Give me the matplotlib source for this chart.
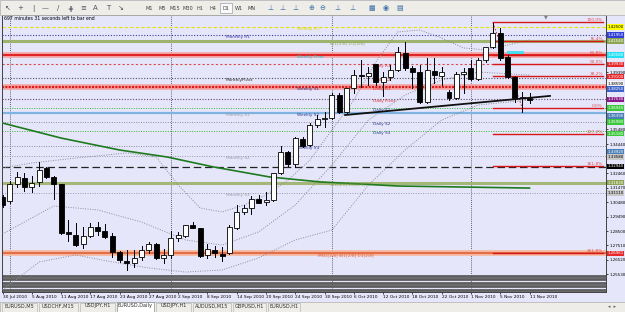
import matplotlib
matplotlib.use("Agg")
import matplotlib.pyplot as plt
from matplotlib.patches import Rectangle

W, H = 625, 312
BG = "#e6e6fa"
TOOLBAR = "#eeede8"

# ---------------- data ----------------
DATE_BARS = [0, 4, 8, 12, 16, 20, 24, 28, 32, 36, 40, 44, 48, 52, 56, 60, 64, 68, 72]
DATE_LABELS = ["30 Jul 2010", "5 Aug 2010", "11 Aug 2010", "17 Aug 2010", "23 Aug 2010",
               "27 Aug 2010", "2 Sep 2010", "8 Sep 2010", "14 Sep 2010", "20 Sep 2010",
               "24 Sep 2010", "30 Sep 2010", "6 Oct 2010", "12 Oct 2010", "18 Oct 2010",
               "22 Oct 2010", "1 Nov 2010", "5 Nov 2010", "11 Nov 2010"]
MONTH_STARTS = [1, 23, 45, 64]

OPEN = [1.3084, 1.3056, 1.3173, 1.3214, 1.3152, 1.3187, 1.3283, 1.3221, 1.3173, 1.2844,
        1.2823, 1.2761, 1.2816, 1.2878, 1.2851, 1.2816, 1.2706, 1.2645, 1.2631, 1.2672,
        1.2720, 1.2761, 1.2665, 1.2686, 1.2802, 1.2816, 1.2892, 1.2871, 1.2686, 1.2720,
        1.2693, 1.2700, 1.2871, 1.2981, 1.3008, 1.3070, 1.3049, 1.3063, 1.3248, 1.3392,
        1.3310, 1.3482, 1.3440, 1.3578, 1.3619, 1.3626, 1.3783, 1.3667, 1.3831, 1.3921,
        1.3914, 1.3996, 1.3873, 1.3907, 1.3955, 1.4072, 1.3969, 1.3941, 1.3735, 1.3948,
        1.3914, 1.3804, 1.3763, 1.3928, 1.3969, 1.3893, 1.4024, 1.4113, 1.4209, 1.4044,
        1.3907, 1.3763, 1.3763]
HIGH = [1.3097, 1.3194, 1.3255, 1.3248, 1.3228, 1.3324, 1.3290, 1.3228, 1.3173, 1.2926,
        1.2905, 1.2878, 1.2905, 1.2912, 1.2899, 1.2837, 1.2713, 1.2720, 1.2720, 1.2748,
        1.2775, 1.2768, 1.2727, 1.2851, 1.2844, 1.2892, 1.2912, 1.2871, 1.2761, 1.2748,
        1.2741, 1.2892, 1.3029, 1.3029, 1.3091, 1.3097, 1.3118, 1.3248, 1.3434, 1.3399,
        1.3495, 1.3495, 1.3591, 1.3646, 1.3667, 1.3797, 1.3797, 1.3831, 1.3955, 1.4024,
        1.3976, 1.3996, 1.3941, 1.3989, 1.4113, 1.4147, 1.3982, 1.3989, 1.4037, 1.4037,
        1.3976, 1.3818, 1.3941, 1.3969, 1.4024, 1.4037, 1.4113, 1.4277, 1.4243, 1.4058,
        1.3914, 1.3804, 1.3797]
LOW = [1.3015, 1.3043, 1.3152, 1.3125, 1.3118, 1.3159, 1.3214, 1.3070, 1.2830, 1.2782,
       1.2748, 1.2734, 1.2809, 1.2823, 1.2802, 1.2672, 1.2638, 1.2583, 1.2604, 1.2652,
       1.2700, 1.2658, 1.2631, 1.2665, 1.2782, 1.2809, 1.2871, 1.2672, 1.2665, 1.2672,
       1.2645, 1.2693, 1.2864, 1.2967, 1.2967, 1.3043, 1.3029, 1.3056, 1.3241, 1.3296,
       1.3290, 1.3427, 1.3434, 1.3564, 1.3564, 1.3619, 1.3660, 1.3653, 1.3797, 1.3838,
       1.3852, 1.3852, 1.3777, 1.3886, 1.3948, 1.3955, 1.3831, 1.3729, 1.3729, 1.3866,
       1.3852, 1.3749, 1.3756, 1.3797, 1.3886, 1.3886, 1.4010, 1.4106, 1.4024, 1.3900,
       1.3735, 1.3667, 1.3729]
CLOSE = [1.3029, 1.3173, 1.3221, 1.3152, 1.3180, 1.3269, 1.3221, 1.3173, 1.2837, 1.2830,
         1.2754, 1.2816, 1.2878, 1.2851, 1.2809, 1.2706, 1.2652, 1.2631, 1.2665, 1.2720,
         1.2761, 1.2665, 1.2686, 1.2802, 1.2823, 1.2892, 1.2871, 1.2679, 1.2727, 1.2700,
         1.2679, 1.2878, 1.2981, 1.3008, 1.3070, 1.3043, 1.3063, 1.3248, 1.3392, 1.3310,
         1.3488, 1.3434, 1.3578, 1.3619, 1.3626, 1.3783, 1.3667, 1.3831, 1.3921, 1.3914,
         1.3934, 1.3873, 1.3907, 1.3955, 1.4078, 1.3969, 1.3941, 1.3735, 1.3955, 1.3921,
         1.3941, 1.3763, 1.3928, 1.3941, 1.3893, 1.4024, 1.4113, 1.4209, 1.4037, 1.3907,
         1.3763, 1.3770, 1.3749]

# long moving average (green)
MA_BARS = [0, 8, 16, 22.5, 28.8, 36.5, 43.4, 54, 72]
MA_VALUES = [1.3591, 1.3488, 1.3406, 1.3358, 1.3290, 1.3221, 1.3187, 1.3159, 1.3145]

# bollinger-like dotted envelopes
BB_UP_BARS = [0, 4, 10, 17, 21, 24, 27, 30, 33, 36, 39, 42, 45, 48, 51, 54, 57, 60, 63, 66, 69, 72]
BB_UP = [1.3283, 1.3317, 1.3351, 1.3386, 1.3358, 1.3166, 1.3008, 1.2981, 1.3029, 1.3097, 1.3200,
         1.3337, 1.3543, 1.3749, 1.4010, 1.4216, 1.4229, 1.4174, 1.4106, 1.4092, 1.4126, 1.4161]
BB_MID_BARS = [0, 7, 13, 19, 25, 30, 35, 40, 45, 50, 55, 60, 65, 72]
BB_MID = [1.2830, 1.3022, 1.2995, 1.2912, 1.2789, 1.2754, 1.2844, 1.3029, 1.3303, 1.3612,
          1.3783, 1.3886, 1.3941, 1.3920]
BB_LOW_BARS = [0, 5, 10, 15, 20, 25, 30, 35, 40, 45, 50, 55, 60, 65, 72]
BB_LOW = [1.2446, 1.2638, 1.2686, 1.2638, 1.2597, 1.2569, 1.2583, 1.2666, 1.2789, 1.2857,
          1.3166, 1.3406, 1.3612, 1.3715, 1.3749]

# horizontal pivot / murrey levels
WEEKLY_R1, MONTHLY_R1, MM_58 = 1.4250, 1.4195, 1.4154
WEEKLY_PIVOT, DAILY_R3, MONTHLY_PIVOT = 1.4058, 1.3993, 1.3900
WEEKLY_S1, DAILY_PIVOT, DAILY_S1 = 1.3835, 1.3753, 1.3694
WEEKLY_S2, DAILY_S2, DAILY_S3 = 1.3663, 1.3598, 1.3537
WEEKLY_S3, MONTHLY_S2, BLACK_LEVEL = 1.3434, 1.3365, 1.3290
MM_48, MONTHLY_S3, MM_28 = 1.3183, 1.3111, 1.2700
BOTTOM_STRIPES = [1.2542, 1.2518, 1.2494, 1.2470, 1.2446]

# fibonacci levels (drawn from the 4 Nov high)
FIB_START = 67
FIB_LABELS = ["100.0%", "76.4%", "61.8%", "50.0%", "38.2%", "0.0%", "127.2%", "161.8%", "261.8%"]
FIB_PRICES = [1.4281, 1.4154, 1.4058, 1.3993, 1.3914, 1.3694, 1.3516, 1.3293, 1.2700]

TREND_BARS = [46.8, 74.8]
TREND_PRICES = [1.3646, 1.3777]

# price-scale labels that are not hidden behind a price box
TICKS = [1.3939, 1.3548, 1.3444, 1.3246, 1.3147, 1.3048, 1.2949, 1.2850, 1.2751, 1.2652, 1.2553]

BOX_PRICES = [1.4250, 1.4195, 1.4154, 1.4058, 1.3993, 1.3910, 1.3859, 1.3825, 1.3753,
              1.3694, 1.3639, 1.3598, 1.3518, 1.3392, 1.3358, 1.3294, 1.3183, 1.3111, 1.26961]
BOX_COLORS = ["#ffff00", "#2f3fd8", "#8da552", "#22e0f0", "#e8282c", "#e8282c", "#f4f4f4",
              "#3d63c8", "#8a1a8a", "#3cc83c", "#4a7fb8", "#3cc83c", "#3cc83c", "#4a7fb8",
              "#c8c8c8", "#000000", "#8da552", "#c8c8c8", "#e8282c"]

TABS = ["EURUSD,M5", "USDCHF,M15", "USDJPY,H1", "EURUSD,Daily", "USDJPY,H1",
        "AUDUSD,M15", "GBPUSD,H1", "EURUSD,H1"]
PERIODS = ["M1", "M5", "M15", "M30", "H1", "H4", "D1", "W1", "MN"]


def fx(px):
    return px / W


def fy(py):
    return 1 - py / H


fig = plt.figure(figsize=(W / 100, H / 100), dpi=100, facecolor=BG)
ax = fig.add_axes([fx(2), fy(292), fx(604), 277 / H])
ax.set_facecolor(BG)
ax.set_xlim(-0.07, 82.45)
ax.set_ylim(1.2432, 1.4332)

FS = 3.1
AXFS = 2.9

# horizontal levels spanning the whole chart
ax.axhline(WEEKLY_R1, color="#e4e400", ls=(0, (3, 2)), lw=0.8, zorder=2)
ax.axhline(MONTHLY_R1, color="#3a3aa0", ls=(0, (1, 1.5)), lw=0.8, zorder=2)
ax.axhline(MM_58, color="#9db36e", lw=2.2, zorder=2)
ax.axhline(WEEKLY_PIVOT, color="#f4a0a0", lw=4, zorder=2)
ax.axhline(WEEKLY_PIVOT, color="#e01818", lw=1.3, zorder=2)
ax.axhline(DAILY_R3, color="#e04848", ls=(0, (2, 2)), lw=0.8, zorder=2)
ax.axhline(MONTHLY_PIVOT, color="#505060", ls=(0, (1, 1.5)), lw=0.8, zorder=2)
ax.axhline(WEEKLY_S1, color="#f4a0a0", lw=4, zorder=2)
ax.axhline(WEEKLY_S1, color="#e01818", ls=(0, (1, 0.6)), lw=1.5, zorder=2)
ax.axhline(DAILY_PIVOT, color="#604870", ls=(0, (1, 1.5)), lw=0.8, zorder=2)
ax.axhline(DAILY_S1, color="#3cb43c", ls=(0, (1, 1.5)), lw=0.7, zorder=2)
ax.axhline(WEEKLY_S2, color="#7fb4e0", lw=1.6, zorder=2)
ax.axhline(DAILY_S2, color="#8a8aa0", ls=(0, (1, 1.5)), lw=0.7, zorder=2)
ax.axhline(DAILY_S3, color="#3cb43c", ls=(0, (1, 1.5)), lw=0.7, zorder=2)
ax.axhline(WEEKLY_S3, color="#8a8aa0", ls=(0, (1, 1.5)), lw=0.7, zorder=2)
ax.axhline(MONTHLY_S2, color="#9a9aa8", ls=(0, (1, 1.5)), lw=0.7, zorder=2)
ax.axhline(BLACK_LEVEL, color="#222222", ls=(0, (6, 3)), lw=0.9, zorder=2)
ax.axhline(MM_48, color="#a3b878", lw=2.2, zorder=2)
ax.axhline(MONTHLY_S3, color="#9a9aa8", ls=(0, (1, 1.5)), lw=0.7, zorder=2)
ax.axhline(MM_28, color="#f6b49a", lw=4, zorder=2)
ax.axhline(MM_28, color="#e0603a", lw=1.2, zorder=2)
for p in BOTTOM_STRIPES:
    ax.axhline(p, color="#5e5e5e", lw=2.0, zorder=2)

# month separators
for b in MONTH_STARTS:
    ax.axvline(b, color="#333333", ls=(0, (1, 1.5)), lw=0.6, zorder=1)

# dotted envelopes
for bars, vals in ((BB_UP_BARS, BB_UP), (BB_MID_BARS, BB_MID), (BB_LOW_BARS, BB_LOW)):
    ax.plot(bars, vals, color="#8c8c98", ls=(0, (1, 1.5)), lw=0.7, zorder=3)

# long moving average
ax.plot(MA_BARS, MA_VALUES, color="#1e7a1e", lw=1.2, zorder=3)

# fibonacci levels
for lab, p in zip(FIB_LABELS, FIB_PRICES):
    ax.plot([FIB_START, 82.0], [p, p], color="#d81818", lw=1.0, zorder=4)
    ax.text(82.0, p, lab, color="#e05050", fontsize=FS, ha="right", va="bottom", zorder=6)
ax.plot([FIB_START, 71], [FIB_PRICES[0], FIB_PRICES[5]], color="#d81818",
        ls=(0, (2, 2)), lw=0.6, zorder=4)


def label(bar, price, text, color):
    ax.text(bar, price, text, color=color, fontsize=FS, ha="left", va="top", zorder=3)


label(30.5, MONTHLY_R1, "Monthly R1", "#3a3aa0")
label(30.5, MONTHLY_PIVOT, "MonthlyPivot", "#303030")
label(30.5, WEEKLY_S2, "Monthly S1", "#9a9aa8")
label(30.5, MONTHLY_S2, "Monthly S2", "#9a9aa8")
label(30.5, MONTHLY_S3, "Monthly S3", "#9a9aa8")
label(40.2, WEEKLY_R1, "Weekly R1", "#d8d800")
label(40.2, WEEKLY_PIVOT, "Weekly Pivot", "#18c8e0")
label(40.2, WEEKLY_S1, "Weekly S1", "#2a3a90")
label(40.2, WEEKLY_S2, "Weekly S2", "#2a3a90")
label(40.2, WEEKLY_S3, "Weekly S3", "#2a3a90")
label(50.6, DAILY_R3, "Daily R3", "#e03030")
label(50.6, MONTHLY_PIVOT, "Daily R2", "#e03030")
label(50.6, WEEKLY_S1, "Daily R1", "#e03030")
label(50.6, DAILY_PIVOT, "Daily Pivot", "#e03030")
label(50.6, DAILY_S1, "Daily S1", "#2a3a90")
label(50.6, DAILY_S2, "Daily S2", "#2a3a90")
label(50.6, DAILY_S3, "Daily S3", "#2a3a90")
label(44.7, MM_58, "W1[5/8] D1[5/8]", "#8da552")
label(44.7, MM_48, "W1[4/8] D1[4/8]", "#8da552")
label(43.1, MM_28, "MN1[2/8] W1[2/8] D1[2/8]", "#e0603a")

# short weekly-pivot marker and trend line
ax.plot([69, 71], [1.4075, 1.4075], color="#40e0f0", lw=2.0, zorder=4)
ax.plot(TREND_BARS, TREND_PRICES, color="#101010", lw=1.3, zorder=7)

# candles
BODY = 0.68
for i, (o, h, l, c) in enumerate(zip(OPEN, HIGH, LOW, CLOSE)):
    ax.plot([i, i], [l, h], color="black", lw=0.7, zorder=5)
    lo, hi = min(o, c), max(o, c)
    face = "white" if c >= o else "black"
    ax.add_patch(Rectangle((i - BODY / 2, lo), BODY, max(hi - lo, 0.00015),
                           facecolor=face, edgecolor="black", lw=0.6, zorder=6))

# axes decoration
ax.yaxis.tick_right()
ax.set_yticks(TICKS)
ax.set_yticklabels([f"{t:.5f}" for t in TICKS], fontsize=AXFS)
ax.set_xticks(DATE_BARS)
ax.set_xticklabels(DATE_LABELS, fontsize=FS, ha="left")
ax.tick_params(axis="both", length=1.5, width=0.5, pad=0.8, colors="black")
for s in ax.spines.values():
    s.set_linewidth(0.7)
    s.set_color("#404040")

ytr = ax.get_yaxis_transform()
for p, col in zip(BOX_PRICES, BOX_COLORS):
    tcol = "black" if col in ("#ffff00", "#f4f4f4", "#c8c8c8") else "white"
    ax.text(1.002, p, f"{p:.5f}", transform=ytr, fontsize=AXFS, color=tcol,
            ha="left", va="center", clip_on=False, zorder=10,
            bbox=dict(boxstyle="square,pad=0.15", fc=col, ec="none"))

fig.text(fx(4), fy(19), "697 minutes 31 seconds left to bar end", fontsize=FS + 0.2,
         ha="left", va="center", color="black")

# toolbar
fig.patches.append(Rectangle((0, fy(15)), 1, 15 / H, transform=fig.transFigure,
                             facecolor=TOOLBAR, edgecolor="#b0b0b0", lw=0.5, zorder=0))
tool_glyphs = ["\u2196", "+", "|", "\u2014", "/", "\u22D5", "\u2261", "A", "T", "\u2198"]
for k, g in enumerate(tool_glyphs):
    fig.text(fx(8 + 12.5 * k), fy(8), g, fontsize=5, ha="center", va="center", color="#505060")
for k, p in enumerate(PERIODS):
    xc = 149 + 12.8 * k
    if p == "D1":
        fig.patches.append(Rectangle((fx(xc - 6), fy(13)), 12 / W, 10 / H, transform=fig.transFigure,
                                     facecolor="#fafafa", edgecolor="#9aa0b0", lw=0.5))
    fig.text(fx(xc), fy(8), p, fontsize=3.6, ha="center", va="center", color="#404040")
icon_glyphs = ["\u22A5", "\u22A5", "\u22A5", "\u2295", "\u2296", "\u22A5", "\u22A5",
               "\u25A6", "\u25C9", "\u25A4"]
for xc, g in zip([270, 282, 295, 311, 322, 337, 352, 372, 386, 400], icon_glyphs):
    fig.text(fx(xc), fy(8), g, fontsize=5, ha="center", va="center", color="#3a6ea8")

# chart shift marker
fig.text(fx(546), fy(17), "\u25BC", fontsize=3.5, ha="center", va="center", color="#7a7a7a")

# tab strip
fig.patches.append(Rectangle((0, 0), 1, 10 / H, transform=fig.transFigure,
                             facecolor=TOOLBAR, edgecolor="#b0b0b0", lw=0.5, zorder=0))
tab_x = [2, 39, 80, 117, 156, 193, 233, 268]
tab_w = [35, 39, 35, 37, 35, 38, 33, 32]
for t, x0, w in zip(TABS, tab_x, tab_w):
    if t == "EURUSD,Daily":
        fig.patches.append(Rectangle((fx(x0), 0), w / W, 10 / H, transform=fig.transFigure,
                                     facecolor="white", edgecolor="#8a8a8a", lw=0.5))
    else:
        fig.patches.append(Rectangle((fx(x0), 0.5 / H), w / W, 9 / H, transform=fig.transFigure,
                                     facecolor="none", edgecolor="#b8b8b8", lw=0.5))
    fig.text(fx(x0 + w / 2), fy(306), t, fontsize=3.6, ha="center", va="center", color="#303030")
fig.text(fx(612), fy(306), "\u25C2  \u25B8", fontsize=3.5, ha="center", va="center", color="#606060")

fig.savefig("out.png", dpi=100, facecolor=BG)
